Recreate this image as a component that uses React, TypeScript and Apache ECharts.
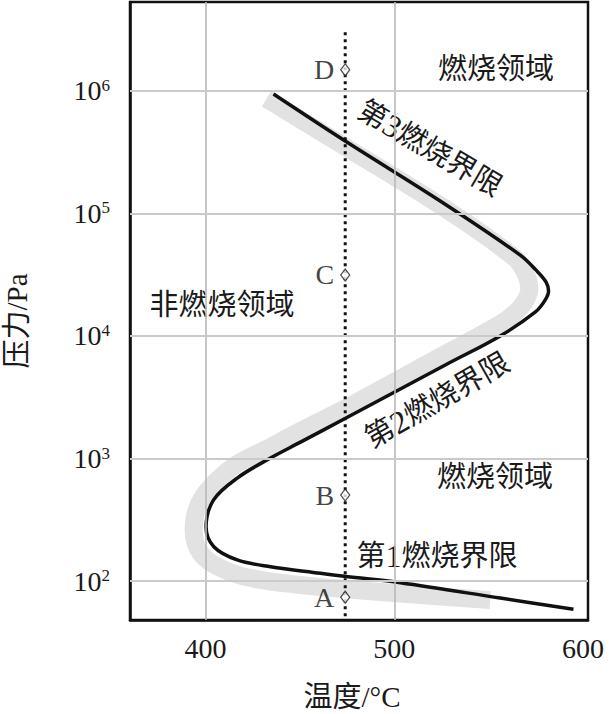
import React, { useEffect, useRef } from "react";
import * as echarts from "echarts";

// ---- data (temperature °C, pressure Pa) ----
const blackCurveT = [436.0, 474.4, 524.3, 566.7, 575.1, 580.4, 581.7, 579.9, 574.6, 556.1, 528.0, 503.2, 474.4, 450.3, 434.4, 416.8, 404.2, 400.3, 404.4, 416.8, 434.4, 460.8, 474.6, 503.2, 556.1, 594.9];
const blackCurveP = [9.4e5, 3.85e5, 1.26e5, 4.56e4, 3.44e4, 2.75e4, 2.32e4, 1.96e4, 1.56e4, 1.0e4, 5900, 3690, 2140, 1360, 1010, 693, 458, 276, 191, 149, 131, 116, 109, 97, 72.8, 58.9];

const grayBandT = [432.3, 474.4, 524.3, 564.0, 570.0, 571.5, 569.0, 564.0, 556.1, 528.0, 474.4, 450.3, 434.4, 416.8, 404.2, 396.3, 393.7, 397.4, 407.9, 423.8, 450.3, 474.6, 513.8, 550.8];
const grayBandP = [8.6e5, 3.45e5, 1.16e5, 4.3e4, 3.1e4, 2.4e4, 1.89e4, 1.54e4, 1.25e4, 7260, 2580, 1675, 1240, 902, 620, 417, 261, 169, 128, 106, 93, 86, 77, 70];

const testTemp = 474;
const pointNames = ["D", "C", "B", "A"];
const pointP = [1.48e6, 3.14e4, 504, 74];
const dottedP = [3.0e6, 48.2];

const xGridValues = [400, 500];
const yGridValues = [1e2, 1e3, 1e4, 1e5, 1e6];
const xLabelValues = [400, 500, 600];

const X_MIN = 360;
const X_MAX = 602.6;
const Y_MIN = 48.2;
const Y_MAX = 5.29e6;

const LATIN = "'Liberation Serif', 'Noto Sans CJK SC', serif";
const TEXT_COLOR = "#1a1a1a";

function annotation(text: string, x: number, y: number, rotation = 0, fontSize = 29) {
  return {
    type: "text",
    x,
    y,
    rotation,
    z: 1,
    silent: true,
    style: {
      text,
      x: 0,
      y: 0,
      fontSize,
      fontFamily: LATIN,
      fill: TEXT_COLOR,
      align: "center",
      verticalAlign: "middle",
      backgroundColor: "#fff",
      rich: {
        d: { fontSize: 32, fontFamily: LATIN, fill: TEXT_COLOR, backgroundColor: "#fff" },
      },
    },
  };
}

export default function App() {
  const ref = useRef<HTMLDivElement>(null);

  useEffect(() => {
    if (!ref.current) return;
    const chart = echarts.init(ref.current, undefined, { renderer: "svg" });

    const black = blackCurveT.map((t, i) => [t, blackCurveP[i]]);
    const gray = grayBandT.map((t, i) => [t, grayBandP[i]]);
    const pts = pointP.map((p, i) => ({ name: pointNames[i], value: [testTemp, p] }));
    const dotted = dottedP.map((p) => [testTemp, p]);

    const option: any = {
      animation: false,
      grid: {
        left: 130,
        right: 21,
        top: 2,
        bottom: 94,
        show: true,
        borderColor: "#111",
        borderWidth: 2.5,
        backgroundColor: "transparent",
      },
      xAxis: {
        type: "value",
        min: X_MIN,
        max: X_MAX,
        interval: 20,
        axisLine: { show: true, lineStyle: { color: "#111", width: 2.5 } },
        axisTick: { show: false },
        splitLine: { show: false },
        axisLabel: {
          margin: 14,
          fontSize: 28,
          fontFamily: LATIN,
          color: TEXT_COLOR,
          formatter: (v: number) => (xLabelValues.indexOf(v) >= 0 ? String(v) : ""),
        },
      },
      yAxis: {
        type: "log",
        logBase: 10,
        min: Y_MIN,
        max: Y_MAX,
        axisLine: { show: true, lineStyle: { color: "#111", width: 2.5 } },
        axisTick: { show: false },
        splitLine: { show: false },
        axisLabel: {
          margin: 20,
          color: TEXT_COLOR,
          formatter: (v: number) => {
            const l = Math.log10(v);
            const e = Math.round(l);
            if (Math.abs(l - e) > 1e-6) return "";
            return `{b|10}{s|${e}}`;
          },
          rich: {
            b: { fontSize: 28, fontFamily: LATIN, color: TEXT_COLOR },
            s: { fontSize: 17, fontFamily: LATIN, color: TEXT_COLOR, verticalAlign: "top" },
          },
        },
      },
      graphic: [
        annotation("燃烧领域", 496, 69),
        annotation("燃烧领域", 495, 477),
        annotation("非燃烧领域", 222, 305),
        annotation("第{d|3}燃烧界限", 430, 148, -0.53),
        annotation("第{d|2}燃烧界限", 437, 400, 0.52),
        annotation("第{d|1}燃烧界限", 437, 556),
        {
          type: "text",
          x: 352,
          y: 697,
          z: 1,
          style: {
            text: "温度/°C",
            fontSize: 29,
            fontFamily: LATIN,
            fill: TEXT_COLOR,
            align: "center",
            verticalAlign: "middle",
          },
        },
        {
          type: "text",
          x: 17,
          y: 321,
          rotation: Math.PI / 2,
          z: 1,
          style: {
            text: "压力/Pa",
            fontSize: 29,
            fontFamily: LATIN,
            fill: TEXT_COLOR,
            align: "center",
            verticalAlign: "middle",
          },
        },
      ],
      series: [
        {
          type: "line",
          z: 0,
          data: [],
          silent: true,
          markLine: {
            silent: true,
            symbol: "none",
            label: { show: false },
            animation: false,
            data: [
              ...xGridValues.map((v) => ({ xAxis: v, lineStyle: { color: "#b8b8b8", width: 1.6, type: "solid" } })),
              ...yGridValues.map((v) => ({ yAxis: v, lineStyle: { color: "#cacaca", width: 2, type: "solid" } })),
            ],
          },
        },
        {
          type: "line",
          z: 2,
          data: gray,
          smooth: 0.35,
          showSymbol: false,
          silent: true,
          lineStyle: { color: "#e2e2e2", width: 18, cap: "butt", join: "round" },
        },
        {
          type: "line",
          z: 3,
          data: black,
          smooth: 0.35,
          showSymbol: false,
          silent: true,
          lineStyle: { color: "#111", width: 3.5, join: "round" },
        },
        {
          type: "line",
          z: 4,
          data: dotted,
          showSymbol: false,
          silent: true,
          lineStyle: { color: "#111", width: 3, type: [3, 4] },
        },
        {
          type: "scatter",
          z: 5,
          data: pts,
          symbol: "diamond",
          symbolSize: [9, 12],
          itemStyle: { color: "#fff", borderColor: "#222", borderWidth: 1.3 },
          label: {
            show: true,
            position: "left",
            distance: 6,
            formatter: (p: any) => p.name,
            fontSize: 28,
            fontFamily: LATIN,
            color: "#111",
          },
        },
      ],
    };

    chart.setOption(option);
    return () => chart.dispose();
  }, []);

  return (
    <div
      ref={ref}
      style={{ position: "absolute", left: 0, top: 0, width: 609, height: 714, background: "#fff" }}
    />
  );
}
